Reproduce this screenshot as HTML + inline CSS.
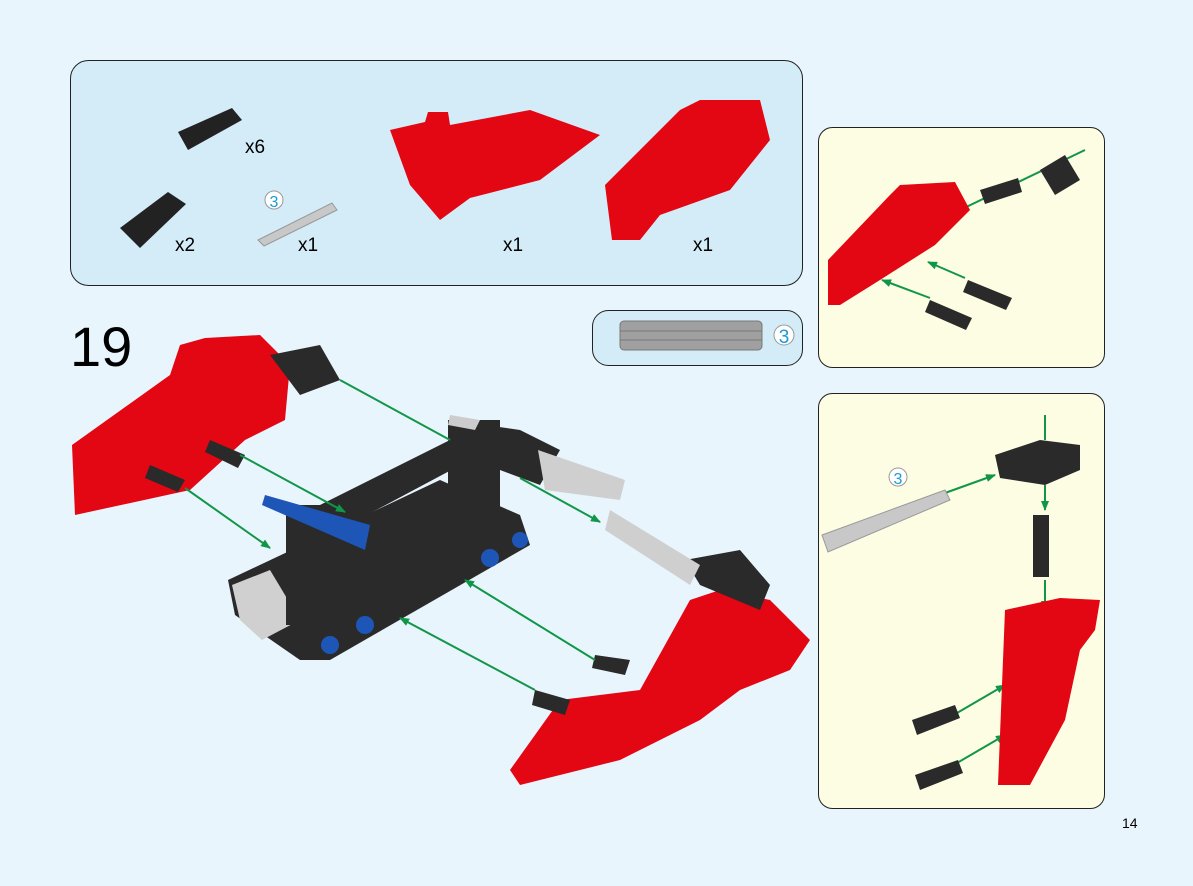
<!DOCTYPE html>
<html><head><style>
html,body{margin:0;padding:0;background:#e8f5fd;}
svg{display:block;}
text{font-family:"Liberation Sans",sans-serif;}
</style></head><body>
<svg width="1193" height="886" viewBox="0 0 1193 886" xmlns="http://www.w3.org/2000/svg">
<defs><marker id="a" markerWidth="10" markerHeight="8" refX="9" refY="4" orient="auto" markerUnits="userSpaceOnUse"><path d="M0 0 L10 4 L0 8 Z" fill="#119648"/></marker></defs>
<rect width="1193" height="886" fill="#e8f5fd"/>
<rect x="70.5" y="60.5" width="732" height="225" rx="18" fill="#d4ebf8" stroke="#222" stroke-width="1"/>
<rect x="592.5" y="310.5" width="210" height="55" rx="16" fill="#d4ebf8" stroke="#222" stroke-width="1"/>
<rect x="620" y="321" width="142" height="29" rx="4" fill="#a0a0a0" stroke="#777"/>
<line x1="620" y1="331" x2="762" y2="331" stroke="#777"/>
<line x1="620" y1="340" x2="762" y2="340" stroke="#777"/>
<circle cx="784" cy="335" r="10" fill="#fff" stroke="#999"/>
<text x="784" y="343" font-size="19" fill="#1a9ad6" text-anchor="middle">3</text>
<rect x="818.5" y="127.5" width="286" height="240" rx="14" fill="#fdfde3" stroke="#222"/>
<rect x="818.5" y="393.5" width="286" height="415" rx="14" fill="#fdfde3" stroke="#222"/>

<g fill="#222">
<path d="M178 132 L232 108 L242 120 L188 150 Z"/>
<path d="M120 228 L168 192 L186 204 L140 248 Z"/>
</g>
<path d="M258 240 L332 203 L337 210 L264 246 Z" fill="#c8c8c8" stroke="#999"/>
<circle cx="274" cy="200" r="9" fill="#fff" stroke="#999"/>
<text x="274" y="207" font-size="16" fill="#1a9ad6" text-anchor="middle">3</text>
<text x="245" y="153" font-size="19">x6</text>
<text x="175" y="251" font-size="19">x2</text>
<text x="298" y="251" font-size="19">x1</text>
<text x="503" y="251" font-size="19">x1</text>
<text x="693" y="251" font-size="19">x1</text>
<path d="M390 130 L425 122 L428 112 L448 112 L450 125 L530 110 L600 135 L540 180 L470 198 L440 220 L410 185 Z" fill="#e30613"/>
<path d="M605 185 L680 110 L700 100 L760 100 L770 140 L730 190 L660 215 L640 240 L612 240 Z" fill="#e30613"/>

<text x="70" y="366" font-size="56">19</text>

<path d="M228 580 L440 480 L520 515 L530 545 L330 660 L300 660 L235 615 Z" fill="#2a2a2a"/>
<path d="M232 585 L270 570 L300 620 L262 640 L240 620 Z" fill="#d0d0d0"/>
<path d="M290 520 L450 440 L470 460 L320 540 Z" fill="#2a2a2a"/>
<rect x="286" y="505" width="40" height="120" fill="#2a2a2a"/>
<rect x="448" y="420" width="52" height="120" fill="#2a2a2a"/>
<path d="M450 420 L520 430 L560 450 L540 485 L500 470 Z" fill="#2a2a2a"/>
<path d="M538 450 L625 480 L620 500 L545 490 Z" fill="#cfcfcf"/>
<path d="M450 415 L480 420 L475 430 L448 425 Z" fill="#ccc"/>
<path d="M265 495 L370 525 L365 550 L262 505 Z" fill="#1e56b8"/>
<g fill="#1e56b8">
<circle cx="365" cy="625" r="9"/><circle cx="330" cy="645" r="9"/><circle cx="490" cy="558" r="9"/><circle cx="520" cy="540" r="8"/>
</g>
<path d="M72 445 L170 375 L180 345 L205 338 L260 335 L290 365 L285 420 L245 440 L190 490 L75 515 Z" fill="#e30613"/>
<path d="M270 355 L320 345 L340 380 L300 395 Z" fill="#2a2a2a"/>
<path d="M210 440 L245 455 L238 468 L205 452 Z" fill="#2a2a2a"/>
<path d="M150 465 L185 480 L178 492 L145 478 Z" fill="#2a2a2a"/>
<path d="M510 770 L560 700 L640 690 L690 600 L720 590 L770 600 L810 640 L790 670 L740 690 L700 720 L620 760 L520 785 Z" fill="#e30613"/>
<path d="M685 560 L740 550 L770 585 L760 610 L700 585 Z" fill="#2a2a2a"/>
<path d="M610 510 L700 565 L690 585 L605 530 Z" fill="#cfcfcf"/>
<path d="M595 655 L630 660 L625 675 L592 668 Z" fill="#2a2a2a"/>
<path d="M535 690 L570 700 L565 715 L532 705 Z" fill="#2a2a2a"/>
<g stroke="#119648" stroke-width="2" fill="none">
<line x1="340" y1="380" x2="450" y2="440"/>
<line x1="240" y1="455" x2="345" y2="512" marker-end="url(#a)"/>
<line x1="185" y1="488" x2="270" y2="548" marker-end="url(#a)"/>
<line x1="520" y1="478" x2="600" y2="522" marker-end="url(#a)"/>
<line x1="595" y1="660" x2="465" y2="580" marker-end="url(#a)"/>
<line x1="535" y1="690" x2="400" y2="618" marker-end="url(#a)"/>
<line x1="1085" y1="150" x2="935" y2="222" marker-end="url(#a)"/>
<line x1="965" y1="278" x2="928" y2="262" marker-end="url(#a)"/>
<line x1="930" y1="298" x2="882" y2="280" marker-end="url(#a)"/>
<line x1="945" y1="493" x2="995" y2="475" marker-end="url(#a)"/>
<line x1="1045" y1="415" x2="1045" y2="440"/>
<line x1="1045" y1="485" x2="1045" y2="510" marker-end="url(#a)"/>
<line x1="1045" y1="580" x2="1045" y2="610" marker-end="url(#a)"/>
<line x1="945" y1="720" x2="1005" y2="685" marker-end="url(#a)"/>
<line x1="945" y1="770" x2="1005" y2="735" marker-end="url(#a)"/>
</g>
<path d="M828 260 L890 195 L900 185 L955 182 L970 210 L935 245 L880 280 L840 305 L828 305 Z" fill="#e30613"/>
<path d="M1040 170 L1065 155 L1080 180 L1055 195 Z" fill="#2a2a2a"/>
<path d="M980 190 L1018 178 L1022 192 L985 204 Z" fill="#2a2a2a"/>
<path d="M968 280 L1012 298 L1006 310 L963 292 Z" fill="#2a2a2a"/>
<path d="M930 300 L972 318 L966 330 L925 312 Z" fill="#2a2a2a"/>
<path d="M822 535 L945 490 L950 500 L828 552 Z" fill="#c8c8c8" stroke="#999"/>
<circle cx="898" cy="477" r="9" fill="#fff" stroke="#999"/>
<text x="898" y="484" font-size="16" fill="#1a9ad6" text-anchor="middle">3</text>
<path d="M995 455 L1040 440 L1080 445 L1080 470 L1045 485 L1000 478 Z" fill="#2a2a2a"/>
<rect x="1033" y="515" width="16" height="62" fill="#2a2a2a"/>
<path d="M1005 610 L1060 598 L1100 600 L1095 630 L1080 650 L1065 720 L1030 785 L998 785 Z" fill="#e30613"/>
<path d="M912 720 L955 705 L960 718 L917 735 Z" fill="#2a2a2a"/>
<path d="M915 775 L958 760 L963 773 L920 790 Z" fill="#2a2a2a"/>

<text x="1122" y="828" font-size="14">14</text>
</svg>
</body></html>
